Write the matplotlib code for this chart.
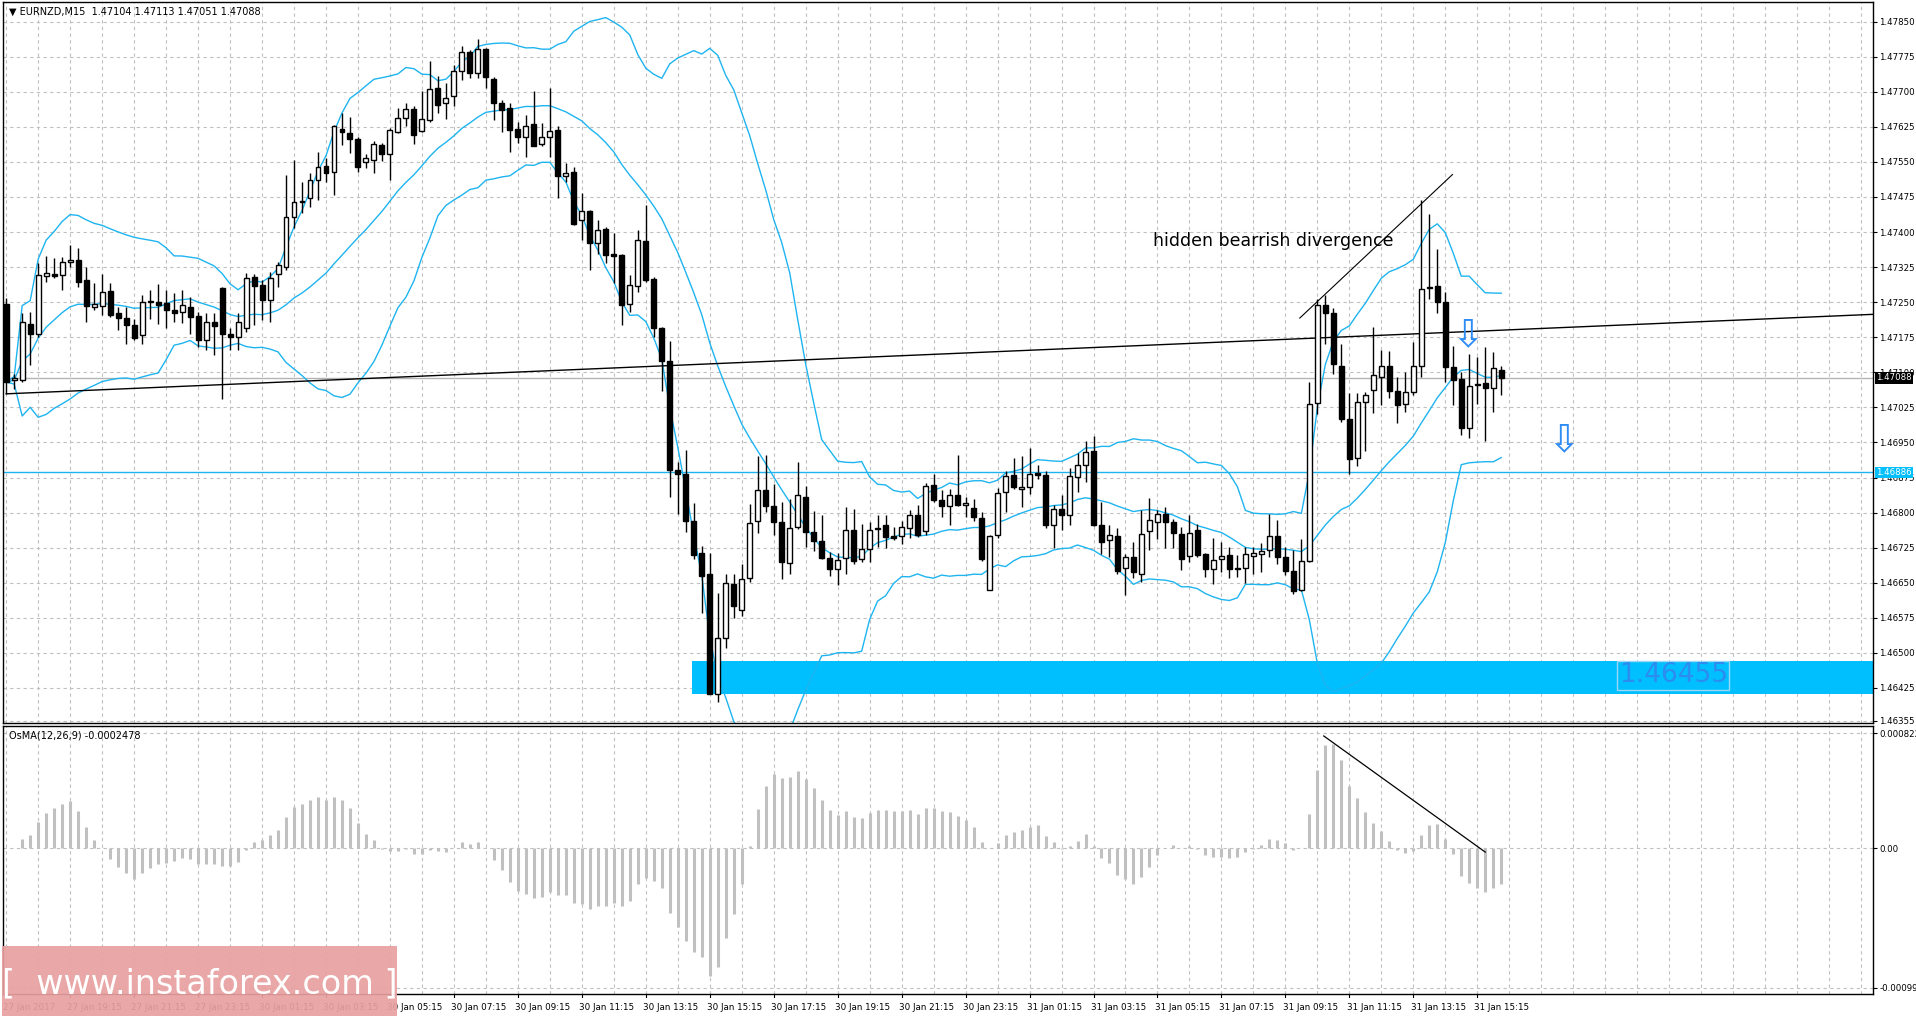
import matplotlib
matplotlib.use("Agg")
import matplotlib.pyplot as plt
from matplotlib.patches import Rectangle
import numpy as np
import pandas as pd

O = [1.47247,1.47083,1.47083,1.47204,1.47183,1.47307,1.47310,1.47308,1.47335,1.47341,
     1.47297,1.47240,1.47242,1.47274,1.47227,1.47217,1.47202,1.47179,1.47251,1.47251,
     1.47249,1.47234,1.47229,1.47240,1.47220,1.47170,1.47208,1.47281,1.47183,1.47176,
     1.47194,1.47303,1.47286,1.47254,1.47311,1.47326,1.47433,1.47464,1.47472,1.47511,
     1.47541,1.47529,1.47620,1.47611,1.47599,1.47549,1.47554,1.47586,1.47567,1.47615,
     1.47644,1.47663,1.47616,1.47640,1.47708,1.47676,1.47690,1.47745,1.47786,1.47740,
     1.47791,1.47727,1.47677,1.47665,1.47620,1.47604,1.47631,1.47589,1.47603,1.47619,
     1.47520,1.47528,1.47426,1.47444,1.47377,1.47406,1.47352,1.47351,1.47246,1.47285,
     1.47381,1.47299,1.47194,1.47124,1.46892,1.46882,1.46782,1.46714,1.46669,1.46412,
     1.46531,1.46647,1.46592,1.46660,1.46781,1.46849,1.46815,1.46780,1.46692,1.46769,
     1.46834,1.46758,1.46740,1.46703,1.46679,1.46703,1.46762,1.46701,1.46723,1.46764,
     1.46773,1.46749,1.46749,1.46768,1.46795,1.46760,1.46859,1.46827,1.46814,1.46838,
     1.46816,1.46810,1.46788,1.46634,1.46753,1.46845,1.46881,1.46851,1.46854,1.46885,
     1.46880,1.46773,1.46808,1.46794,1.46877,1.46901,1.46932,1.46773,1.46741,1.46751,
     1.46682,1.46706,1.46669,1.46760,1.46780,1.46798,1.46779,1.46755,1.46707,1.46762,
     1.46711,1.46680,1.46701,1.46709,1.46682,1.46682,1.46708,1.46712,1.46719,1.46751,
     1.46706,1.46676,1.46634,1.46696,1.47034,1.47243,1.47226,1.47114,1.47001,1.46916,
     1.47037,1.47062,1.47091,1.47113,1.47059,1.47032,1.47057,1.47113,1.47280,1.47284,
     1.47250,1.47111,1.47086,1.46980,1.47076,1.47077,1.47066,1.47104]
H = [1.47260,1.47097,1.47226,1.47229,1.47333,1.47349,1.47344,1.47347,1.47372,1.47365,
     1.47326,1.47291,1.47311,1.47291,1.47240,1.47240,1.47215,1.47265,1.47277,1.47289,
     1.47276,1.47269,1.47276,1.47261,1.47229,1.47226,1.47226,1.47283,1.47194,1.47226,
     1.47313,1.47311,1.47297,1.47315,1.47336,1.47522,1.47554,1.47506,1.47526,1.47572,
     1.47558,1.47629,1.47654,1.47647,1.47604,1.47567,1.47594,1.47590,1.47622,1.47665,
     1.47677,1.47669,1.47701,1.47765,1.47733,1.47719,1.47758,1.47797,1.47790,1.47813,
     1.47794,1.47731,1.47683,1.47676,1.47636,1.47651,1.47701,1.47633,1.47708,1.47626,
     1.47547,1.47540,1.47483,1.47447,1.47426,1.47411,1.47397,1.47354,1.47308,1.47404,
     1.47458,1.47304,1.47197,1.47167,1.46908,1.46934,1.46821,1.46728,1.46714,1.46627,
     1.46669,1.46669,1.46690,1.46819,1.46921,1.46923,1.46862,1.46822,1.46829,1.46908,
     1.46856,1.46803,1.46794,1.46716,1.46714,1.46812,1.46808,1.46775,1.46779,1.46794,
     1.46794,1.46769,1.46782,1.46806,1.46816,1.46864,1.46882,1.46849,1.46851,1.46923,
     1.46834,1.46830,1.46801,1.46753,1.46853,1.46890,1.46916,1.46921,1.46938,1.46902,
     1.46890,1.46816,1.46838,1.46895,1.46927,1.46953,1.46964,1.46823,1.46773,1.46767,
     1.46711,1.46737,1.46805,1.46832,1.46806,1.46811,1.46787,1.46769,1.46794,1.46776,
     1.46714,1.46746,1.46737,1.46726,1.46709,1.46726,1.46726,1.46734,1.46798,1.46784,
     1.46726,1.46719,1.46744,1.47079,1.47257,1.47266,1.47237,1.47161,1.47056,1.47056,
     1.47057,1.47196,1.47148,1.47146,1.47091,1.47101,1.47164,1.47468,1.47439,1.47363,
     1.47271,1.47157,1.47100,1.47139,1.47132,1.47154,1.47144,1.47113]
L = [1.47054,1.47065,1.47079,1.47115,1.47176,1.47294,1.47301,1.47276,1.47326,1.47283,
     1.47208,1.47233,1.47222,1.47219,1.47190,1.47161,1.47169,1.47161,1.47215,1.47204,
     1.47194,1.47208,1.47206,1.47183,1.47154,1.47147,1.47136,1.47044,1.47147,1.47147,
     1.47186,1.47201,1.47211,1.47208,1.47283,1.47319,1.47408,1.47440,1.47454,1.47469,
     1.47506,1.47479,1.47586,1.47569,1.47529,1.47536,1.47527,1.47551,1.47511,1.47611,
     1.47626,1.47589,1.47615,1.47636,1.47654,1.47641,1.47669,1.47726,1.47729,1.47729,
     1.47708,1.47640,1.47615,1.47572,1.47590,1.47561,1.47583,1.47583,1.47561,1.47472,
     1.47508,1.47415,1.47383,1.47319,1.47354,1.47333,1.47290,1.47201,1.47229,1.47272,
     1.47294,1.47176,1.47061,1.46834,1.46797,1.46759,1.46701,1.46586,1.46411,1.46394,
     1.46510,1.46575,1.46579,1.46651,1.46757,1.46801,1.46753,1.46658,1.46669,1.46764,
     1.46727,1.46717,1.46701,1.46664,1.46646,1.46668,1.46690,1.46695,1.46695,1.46727,
     1.46725,1.46742,1.46732,1.46745,1.46747,1.46753,1.46823,1.46790,1.46773,1.46814,
     1.46790,1.46782,1.46697,1.46634,1.46745,1.46801,1.46851,1.46812,1.46840,1.46871,
     1.46768,1.46725,1.46762,1.46773,1.46845,1.46865,1.46771,1.46712,1.46705,1.46669,
     1.46623,1.46660,1.46651,1.46719,1.46744,1.46724,1.46724,1.46678,1.46694,1.46706,
     1.46662,1.46648,1.46673,1.46660,1.46662,1.46649,1.46668,1.46673,1.46704,1.46691,
     1.46666,1.46626,1.46632,1.46694,1.47011,1.47161,1.47096,1.46993,1.46882,1.46900,
     1.46931,1.47014,1.47030,1.47046,1.46991,1.47016,1.47051,1.47089,1.47257,1.47226,
     1.47079,1.47030,1.46966,1.46959,1.47032,1.46954,1.47016,1.47051]
C = [1.47079,1.47087,1.47208,1.47183,1.47308,1.47313,1.47307,1.47336,1.47341,1.47294,
     1.47242,1.47246,1.47271,1.47222,1.47217,1.47201,1.47174,1.47251,1.47253,1.47244,
     1.47233,1.47227,1.47244,1.47219,1.47169,1.47208,1.47199,1.47181,1.47176,1.47208,
     1.47301,1.47284,1.47254,1.47301,1.47329,1.47433,1.47465,1.47466,1.47511,1.47540,
     1.47527,1.47626,1.47613,1.47599,1.47539,1.47558,1.47588,1.47567,1.47619,1.47644,
     1.47663,1.47608,1.47641,1.47706,1.47672,1.47686,1.47744,1.47786,1.47741,1.47791,
     1.47731,1.47677,1.47661,1.47619,1.47603,1.47626,1.47583,1.47603,1.47617,1.47520,
     1.47526,1.47417,1.47446,1.47377,1.47404,1.47351,1.47349,1.47244,1.47286,1.47383,
     1.47297,1.47194,1.47124,1.46892,1.46882,1.46782,1.46710,1.46664,1.46412,1.46531,
     1.46649,1.46600,1.46657,1.46777,1.46849,1.46814,1.46779,1.46695,1.46766,1.46838,
     1.46758,1.46740,1.46703,1.46679,1.46699,1.46762,1.46696,1.46723,1.46762,1.46768,
     1.46748,1.46745,1.46769,1.46794,1.46753,1.46856,1.46827,1.46814,1.46838,1.46816,
     1.46821,1.46790,1.46700,1.46751,1.46842,1.46879,1.46854,1.46855,1.46882,1.46880,
     1.46773,1.46808,1.46794,1.46879,1.46901,1.46930,1.46773,1.46737,1.46753,1.46676,
     1.46704,1.46673,1.46755,1.46784,1.46796,1.46780,1.46756,1.46701,1.46757,1.46709,
     1.46680,1.46699,1.46707,1.46680,1.46680,1.46712,1.46714,1.46717,1.46751,1.46705,
     1.46675,1.46632,1.46696,1.47032,1.47243,1.47226,1.47118,1.47001,1.46914,1.47037,
     1.47052,1.47095,1.47114,1.47061,1.47031,1.47057,1.47113,1.47279,1.47283,1.47251,
     1.47111,1.47084,1.46980,1.47071,1.47073,1.47066,1.47109,1.47088]

time_labels = ["27 Jan 2017","27 Jan 19:15","27 Jan 21:15","27 Jan 23:15","30 Jan 01:15",
               "30 Jan 03:15","30 Jan 05:15","30 Jan 07:15","30 Jan 09:15","30 Jan 11:15",
               "30 Jan 13:15","30 Jan 15:15","30 Jan 17:15","30 Jan 19:15","30 Jan 21:15",
               "30 Jan 23:15","31 Jan 01:15","31 Jan 03:15","31 Jan 05:15","31 Jan 07:15",
               "31 Jan 09:15","31 Jan 11:15","31 Jan 13:15","31 Jan 15:15"]
price_ticks = [1.46425,1.46500,1.46575,1.46650,1.46725,1.46800,1.46875,1.46950,1.47025,
               1.47100,1.47175,1.47250,1.47325,1.47400,1.47475,1.47550,1.47625,1.47700,
               1.47775,1.47850]
bottom_price = 1.46355
current_price = 1.47088
level_price = 1.46886
zone = [1.46413, 1.46482]
zone_label = "1.46455"
trend_line = [(0, 1.47054), (233.5, 1.47224)]
div_line = [(161.8, 1.47216), (180.9, 1.47523)]
osma_line = [(164.8, 0.000803), (185.0, -0.000026)]
arrows = [(182.8, 1.47180), (194.8, 1.46955)]
osma_ticks = [0.000822, 0.0, -0.000993]
osma_tick_labels = ["0.000822", "0.00", "-0.000993"]

BLUE = "#1EB4F0"
n = len(C)
x = np.arange(n)
cs = pd.Series(C)
mid = cs.rolling(20, min_periods=1).mean()
sd = cs.rolling(20, min_periods=1).std(ddof=0)
up, lo = mid + 2 * sd, mid - 2 * sd
osma_macd = cs.ewm(span=12, adjust=False).mean() - cs.ewm(span=26, adjust=False).mean()
osma = (osma_macd - osma_macd.rolling(9, min_periods=1).mean()).values

W, Hh = 1916, 1016
fig = plt.figure(figsize=(W / 100, Hh / 100), dpi=100)
ax = fig.add_axes([3 / W, 1 - 723 / Hh, 1870 / W, 721 / Hh])
ax2 = fig.add_axes([3 / W, 1 - 994 / Hh, 1870 / W, 268 / Hh])
XL = (-0.4, 233.5)
for a in (ax, ax2):
    a.set_xlim(*XL)
    for s in a.spines.values():
        s.set_color("black"); s.set_linewidth(1)
    a.set_xticks(np.arange(0, 234, 4))
    a.tick_params(axis="x", length=0, labelbottom=False)
    a.grid(True, color="#c0c0c0", linestyle=(0, (3, 3)), linewidth=0.8)
    a.set_axisbelow(True)
    a.yaxis.tick_right()

ax.set_ylim(1.46350, 1.47892)
ax.set_yticks(price_ticks + [bottom_price])
ax.set_yticklabels([f"{v:.5f}" for v in price_ticks + [bottom_price]], fontsize=6.2)
ax.tick_params(axis="y", length=3, pad=1.5, direction="out")

ax.add_patch(Rectangle((85.8, zone[0]), XL[1] - 85.8, zone[1] - zone[0], color="#00BFFF", zorder=1.5, lw=0))
ax.text(208.5, 1.46452, zone_label, fontsize=19, color="#2C8CF0", ha="center", va="center", zorder=2,
        bbox=dict(facecolor="none", edgecolor="#9ad8f5", lw=1, pad=1))

ax.plot(x, up, color=BLUE, lw=1, zorder=2)
ax.plot(x, mid, color=BLUE, lw=1, zorder=2)
ax.plot(x, lo, color=BLUE, lw=1, zorder=2)

ax.axhline(current_price, color="#b4b4b4", lw=1, zorder=1.6)
ax.axhline(level_price, color=BLUE, lw=1, zorder=1.6)
ax.plot([p[0] for p in trend_line], [p[1] for p in trend_line], color="black", lw=1, zorder=2.5)
ax.plot([p[0] for p in div_line], [p[1] for p in div_line], color="black", lw=0.8, zorder=2.5)
ax.text(143.4, 1.47381, "hidden bearrish divergence", fontsize=12.5, ha="left", va="center", zorder=4)
for ax_, ay in arrows:
    ax.text(ax_, ay, "\u21e9", fontsize=28, color="#2F8CF5", ha="center", va="center", zorder=4)

bw = 0.62
for i in range(n):
    ax.vlines(i, L[i], H[i], color="black", lw=1, zorder=3)
    bull = C[i] >= O[i]
    lo_b, hi_b = min(O[i], C[i]), max(O[i], C[i])
    ax.add_patch(Rectangle((i - bw / 2, lo_b), bw, max(hi_b - lo_b, 0.000012),
                           facecolor="white" if bull else "black", edgecolor="black", lw=1, zorder=3.5))

def right_tag(a, y, txt, bg, fg):
    a.text(1.0015, y, txt, transform=a.get_yaxis_transform(), fontsize=6.2, color=fg, va="center",
           ha="left", bbox=dict(facecolor=bg, edgecolor="none", pad=0.8), clip_on=False, zorder=6)
right_tag(ax, current_price, f"{current_price:.5f}", "black", "white")
right_tag(ax, level_price, f"{level_price:.5f}", "#00BFFF", "white")

ax.text(0.003, 0.993, "\u25bc EURNZD,M15  1.47104 1.47113 1.47051 1.47088", transform=ax.transAxes,
        fontsize=7, va="top", ha="left")

ax2.set_ylim(-0.001039, 0.000874)
ax2.set_yticks(osma_ticks)
ax2.set_yticklabels(osma_tick_labels, fontsize=6.2)
ax2.tick_params(axis="y", length=3, pad=1.5)
ax2.vlines(x, 0, osma, color="#c0c0c0", lw=2.2, zorder=2)
ax2.plot([p[0] for p in osma_line], [p[1] for p in osma_line], color="black", lw=0.9, zorder=3)
ax2.text(0.003, 0.985, "OsMA(12,26,9) -0.0002478", transform=ax2.transAxes, fontsize=7, va="top", ha="left")

for k, lab in enumerate(time_labels):
    xi = k * 8
    ax2.annotate(lab, xy=(xi, 0), xycoords=("data", "axes fraction"), xytext=(-2, -10),
                 textcoords="offset points", fontsize=6.3, ha="left", va="center", annotation_clip=False)
    ax2.plot([xi, xi], [0, -0.012], transform=ax2.get_xaxis_transform(), color="black", lw=0.8, clip_on=False)

fig.patches.append(Rectangle((2 / W, 0), 395 / W, 70 / Hh, transform=fig.transFigure,
                             facecolor="#e8a0a0", alpha=0.92, edgecolor="none", zorder=10))
fig.text(200 / W, 32 / Hh, "[  www.instaforex.com ]", fontsize=24, color="white", ha="center", va="center", zorder=11)

fig.savefig("out.png", dpi=100, facecolor="white")
